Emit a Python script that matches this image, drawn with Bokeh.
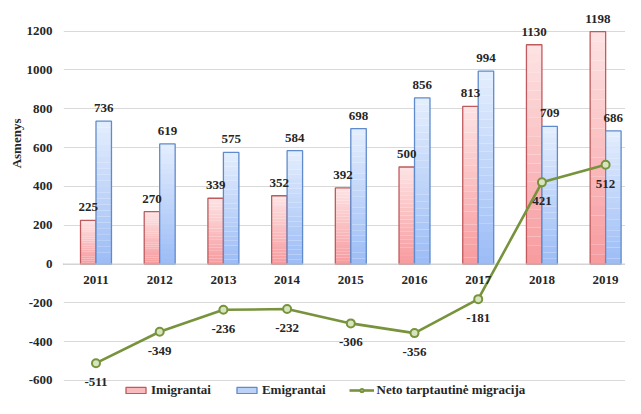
import numpy as np
from bokeh.plotting import figure
from bokeh.models import (Range1d, FixedTicker, Title, Legend, LegendItem, ColumnDataSource,
                          CustomJSTickFormatter)
from bokeh.core.properties import value
from bokeh.embed import file_html
from bokeh.resources import INLINE

years = ["2011", "2012", "2013", "2014", "2015", "2016", "2017", "2018", "2019"]
imigrantai = [225, 270, 339, 352, 392, 500, 813, 1130, 1198]
emigrantai = [736, 619, 575, 584, 698, 856, 994, 709, 686]
neto = [-511, -349, -236, -232, -306, -356, -181, 421, 512]
y_ticks = [-600, -400, -200, 0, 200, 400, 600, 800, 1000, 1200]

FONT = "Liberation Serif"
TXT = "#262626"
X0, X1 = -0.51, 8.312
Y0, Y1 = -693, 1286

p = figure(width=625, height=398, output_backend="svg", toolbar_location=None,
           x_range=Range1d(X0, X1), y_range=Range1d(Y0, Y1),
           min_border_left=63, min_border_right=0, min_border_top=14, min_border_bottom=0)
p.outline_line_color = None
p.xaxis.visible = False
p.xgrid.visible = False
p.ygrid.grid_line_color = "#d9d9d9"
p.ygrid.grid_line_width = 1
p.yaxis.ticker = FixedTicker(ticks=y_ticks)
p.yaxis.formatter = CustomJSTickFormatter(code="return String(Math.round(tick));")
p.yaxis.axis_line_color = None
p.yaxis.major_tick_line_color = None
p.yaxis.minor_tick_line_color = None
p.yaxis.major_tick_in = 0
p.yaxis.major_tick_out = 0
p.yaxis.major_label_standoff = 11
p.yaxis.major_label_text_font = FONT
p.yaxis.major_label_text_font_style = "bold"
p.yaxis.major_label_text_font_size = "13px"
p.yaxis.major_label_text_color = TXT

x = np.arange(len(years), dtype=float)
bw = 0.243
off = 0.1215


def lerp(c1, c2, t):
    a = [int(c1[i:i + 2], 16) for i in (1, 3, 5)]
    b = [int(c2[i:i + 2], 16) for i in (1, 3, 5)]
    return "#%02x%02x%02x" % tuple(int(round(a[k] + (b[k] - a[k]) * t)) for k in range(3))


def gradient_bars(xs, vals, bottom_c, top_c, edge_c, n=24):
    L, R, B, T, C = [], [], [], [], []
    for xi, v in zip(xs, vals):
        for k in range(n):
            L.append(xi - bw / 2)
            R.append(xi + bw / 2)
            B.append(v * k / n)
            T.append(v * (k + 1) / n)
            C.append(lerp(bottom_c, top_c, (k + 0.5) / n))
    p.quad(left=L, right=R, bottom=B, top=T, fill_color=C, line_color=None)
    p.vbar(x=list(xs), top=list(vals), width=bw, fill_alpha=0, line_color=edge_c, line_width=1.3)
    dummy = p.vbar(x=[-20], top=[0], width=bw, fill_color=lerp(bottom_c, top_c, 0.45),
                   line_color=edge_c, line_width=1.3)
    return dummy


red_dummy = gradient_bars(x - off, imigrantai, "#f79a9e", "#fde4e4", "#c05a5c")
blue_dummy = gradient_bars(x + off, emigrantai, "#9cbcf6", "#e4eefd", "#5f8bcc")

# baseline at zero
p.line(x=[X0, X1], y=[0, 0], line_color="#d0d0d0", line_width=1)

# net line
src = ColumnDataSource(dict(x=x, y=neto, lab=[str(v) for v in neto]))
ln = p.line("x", "y", source=src, line_color="#77933c", line_width=2.6)
mk = p.scatter("x", "y", source=src, size=8, fill_color="#d7e4bd", line_color="#77933c", line_width=2)

# value labels
p.text(x=list(x - off), y=imigrantai, text=[str(v) for v in imigrantai], text_align="center",
       text_baseline="middle", y_offset=-13, text_font=value(FONT), text_font_style="bold",
       text_font_size="13px", text_color=TXT)
p.text(x=list(x + off), y=emigrantai, text=[str(v) for v in emigrantai], text_align="center",
       text_baseline="middle", y_offset=-13, text_font=value(FONT), text_font_style="bold",
       text_font_size="13px", text_color=TXT)
p.text("x", "y", text="lab", source=src, text_align="center", text_baseline="middle",
       y_offset=19, text_font=value(FONT), text_font_style="bold", text_font_size="13px",
       text_color=TXT)

# category labels at zero line
p.text(x=list(x), y=[0] * len(years), text=years, text_align="center", text_baseline="middle",
       y_offset=16, text_font=value(FONT), text_font_style="bold", text_font_size="13px",
       text_color=TXT)

# y axis title
p.add_layout(Title(text="Asmenys", align="right", offset=104, standoff=0,
                   text_font=FONT, text_font_style="bold", text_font_size="13px",
                   text_color=TXT), "left")

legend = Legend(items=[LegendItem(label="Imigrantai", renderers=[red_dummy]),
                       LegendItem(label="Emigrantai", renderers=[blue_dummy]),
                       LegendItem(label="Neto tarptautinė migracija", renderers=[ln, mk])],
                orientation="horizontal", location=(60, 0), padding=0, margin=0,
                spacing=23, glyph_width=25, glyph_height=8, label_standoff=3,
                label_text_font=FONT, label_text_font_style="bold", label_text_font_size="13px",
                label_text_color=TXT, background_fill_alpha=0, border_line_color=None)
p.add_layout(legend)

open("out.html", "w").write(file_html(p, INLINE))
